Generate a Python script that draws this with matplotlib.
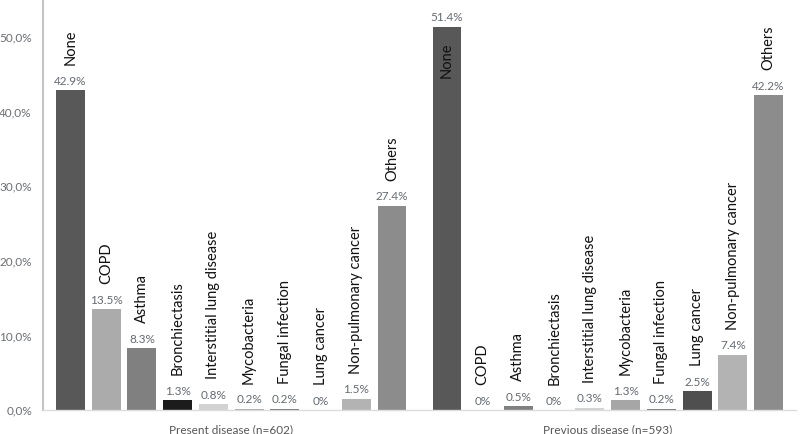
import matplotlib
matplotlib.use("Agg")
import matplotlib.pyplot as plt
import numpy as np

categories = ["None", "COPD", "Asthma", "Bronchiectasis", "Interstitial lung disease",
              "Mycobacteria", "Fungal infection", "Lung cancer", "Non-pulmonary cancer", "Others"]
present = [42.9, 13.5, 8.3, 1.3, 0.8, 0.2, 0.2, 0.0, 1.5, 27.4]
previous = [51.4, 0.0, 0.5, 0.0, 0.3, 1.3, 0.2, 2.5, 7.4, 42.2]
group_labels = ["Present disease (n=602)", "Previous disease (n=593)"]
series_colors = ["#585858", "#ababab", "#808080", "#1c1c1c", "#d2d2d2",
                 "#a6a6a6", "#6e6e6e", "#4f4f4f", "#b3b3b3", "#8c8c8c"]
yticks = [0, 10, 20, 30, 40, 50]

plt.rcParams['font.family'] = ['Lato', 'DejaVu Sans']

fig = plt.figure(figsize=(8, 4.34), dpi=100)
ax = fig.add_axes([43/800, 24/434, 753/800, 410/434])

group_gap = 10.54
width = 0.81
name_color = "#111111"
val_color = "#656a72"

for g, vals in enumerate([present, previous]):
    xs = np.arange(len(categories)) + g * group_gap
    ax.bar(xs, vals, width=width, color=series_colors, edgecolor="none", zorder=2)
    for x, v, name in zip(xs, vals, categories):
        ax.annotate(f"{v:g}%", (x, v), xytext=(0, 2.5), textcoords="offset points",
                    ha="center", va="bottom", fontsize=8.5, color=val_color)
        if v > 48:
            ax.annotate(name, (x, v), xytext=(0, -11), textcoords="offset points",
                        ha="center", va="top", rotation=90, fontsize=10.5, color=name_color)
        else:
            ax.annotate(name, (x, v), xytext=(0, 18), textcoords="offset points",
                        ha="center", va="bottom", rotation=90, fontsize=10.5, color=name_color)

ax.set_ylim(0, 55)
ax.set_xlim(-0.77, 9 + group_gap + 0.77)
ax.set_yticks(yticks)
ax.set_yticklabels([f"{t:.1f}%".replace(".", ",") for t in yticks], fontsize=8.5, color="#6b6e73")
ax.set_xticks([4.5, 4.5 + group_gap])
ax.set_xticklabels(group_labels, fontsize=8.5, color="#555555")
ax.tick_params(axis="both", length=0)
ax.tick_params(axis="y", pad=8)
ax.tick_params(axis="x", pad=10)

for s in ["top", "right"]:
    ax.spines[s].set_visible(False)
ax.spines["left"].set_color("#c4c4c4")
ax.spines["left"].set_linewidth(1.5)
ax.spines["bottom"].set_color("#dcdcdc")
ax.spines["bottom"].set_linewidth(1.0)

fig.savefig("out.png", dpi=100)
